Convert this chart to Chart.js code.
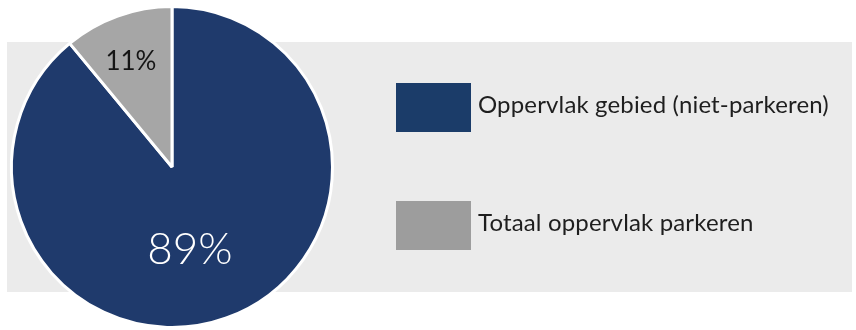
<!DOCTYPE html>
<html>
<head>
<meta charset="utf-8">
<script src="https://cdn.jsdelivr.net/npm/chart.js@4.4.1/dist/chart.umd.min.js"></script>
<style>
    html, body { margin: 0; padding: 0; background: #fff; }
    #wrap { width: 856px; height: 330px; position: relative; }
</style>
</head>
<body>
<div id="wrap"><canvas id="pieChart" width="856" height="330"></canvas></div>
<script>
const labels = ['Oppervlak gebied (niet-parkeren)', 'Totaal oppervlak parkeren'];
const values = [89, 11];
const sliceColors = ['#1f3a6c', '#a6a6a6'];
const legendColors = ['#1b3c69', '#9d9d9d'];
const pctColors = ['#ffffff', '#151515'];

// grey band behind everything
const bandPlugin = {
    id: 'band',
    beforeDraw(chart) {
        const ctx = chart.ctx;
        ctx.save();
        ctx.fillStyle = '#ebebeb';
        ctx.fillRect(7, 42, 845, 250);
        ctx.restore();
    }
};

// percentages inside the slices
const pctPlugin = {
    id: 'pct',
    afterDatasetsDraw(chart) {
        const ctx = chart.ctx;
        const meta = chart.getDatasetMeta(0);
        const conf = [
            { r: 0.55, dx: -12, size: 44, weight: 300 },
            { r: 0.70, dx: -3, size: 26, weight: 400 }
        ];
        ctx.save();
        ctx.textAlign = 'center';
        ctx.textBaseline = 'middle';
        meta.data.forEach((arc, i) => {
            const mid = (arc.startAngle + arc.endAngle) / 2;
            const r = arc.outerRadius * conf[i].r;
            const x = arc.x + Math.cos(mid) * r + conf[i].dx;
            const y = arc.y + Math.sin(mid) * r;
            ctx.font = conf[i].weight + ' ' + conf[i].size + 'px Lato, sans-serif';
            ctx.fillStyle = pctColors[i];
            ctx.fillText(values[i] + '%', x, y);
        });
        ctx.restore();
    }
};

// legend on the right
const legendPlugin = {
    id: 'sideLegend',
    afterDraw(chart) {
        const ctx = chart.ctx;
        const rows = [83, 201];
        ctx.save();
        ctx.textBaseline = 'middle';
        ctx.font = '400 24px Lato, sans-serif';
        ctx.letterSpacing = '0.15px';
        labels.forEach((lab, i) => {
            ctx.fillStyle = legendColors[i];
            ctx.fillRect(396, rows[i], 75, 49);
            ctx.fillStyle = '#1e1e1e';
            ctx.fillText(lab, 478, rows[i] + 22);
        });
        ctx.restore();
    }
};

new Chart(document.getElementById('pieChart'), {
    type: 'pie',
    data: {
        labels: labels,
        datasets: [{
            data: values,
            backgroundColor: sliceColors,
            borderColor: '#ffffff',
            borderWidth: 3
        }]
    },
    options: {
        responsive: false,
        animation: false,
        layout: {
            padding: { left: 10, right: 522, top: 5, bottom: 1 }
        },
        plugins: {
            legend: { display: false },
            tooltip: { enabled: false }
        }
    },
    plugins: [bandPlugin, pctPlugin, legendPlugin]
});
</script>
</body>
</html>
